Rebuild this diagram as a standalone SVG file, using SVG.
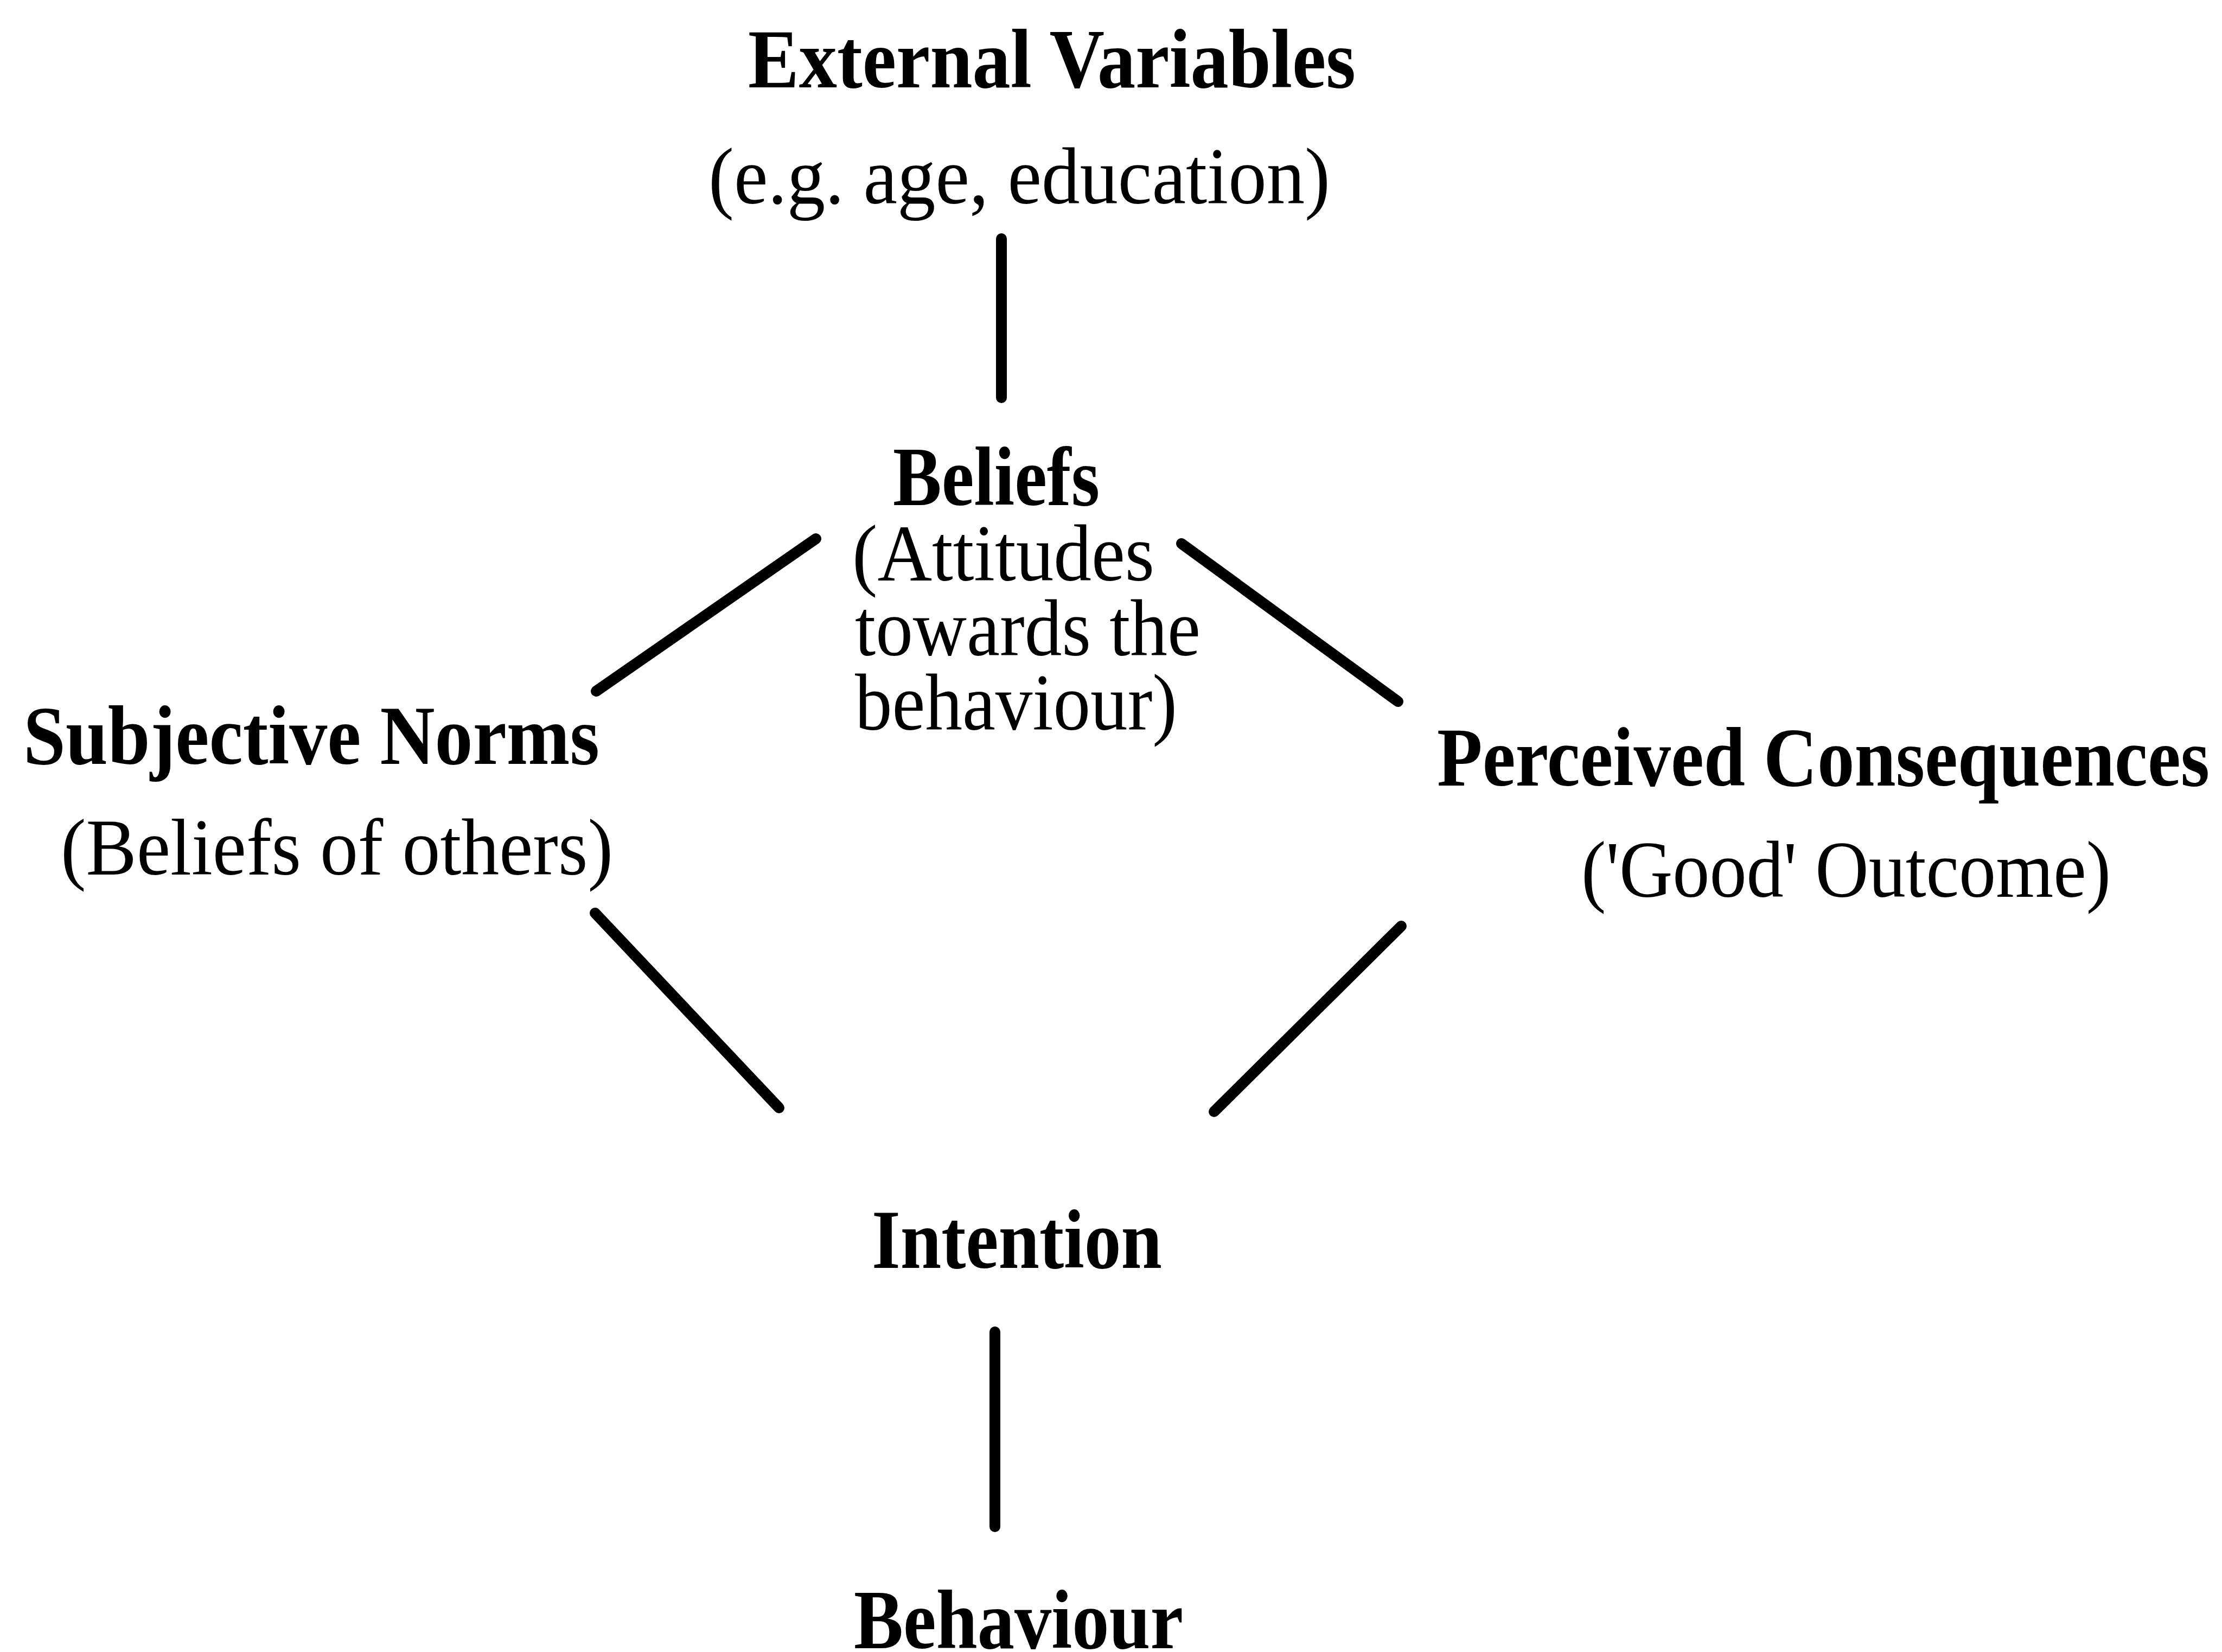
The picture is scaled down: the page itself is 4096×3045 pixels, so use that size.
<svg xmlns="http://www.w3.org/2000/svg" width="4096" height="3045" viewBox="0 0 4096 3045">
<style>
  text { font-family: "Liberation Serif", "Times New Roman", serif; fill: #000; }
  .b { font-weight: bold; font-size: 155px; }
  .r { font-size: 148px; }
  .c line { stroke: #000; stroke-width: 20; stroke-linecap: round; }
</style>
<rect width="4096" height="3045" fill="#fff"/>
<g id="external-variables">
  <text class="b" x="1379" y="161" textLength="1120" lengthAdjust="spacingAndGlyphs">External Variables</text>
  <text class="r" x="1306" y="375" textLength="1146" lengthAdjust="spacingAndGlyphs">(e.g. age, education)</text>
</g>
<g id="beliefs">
  <text class="b" x="1646" y="931" textLength="381" lengthAdjust="spacingAndGlyphs">Beliefs</text>
  <text class="r" x="1571" y="1070" textLength="557" lengthAdjust="spacingAndGlyphs">(Attitudes</text>
  <text class="r" x="1576" y="1208" textLength="637" lengthAdjust="spacingAndGlyphs">towards the</text>
  <text class="r" x="1576" y="1345" textLength="594" lengthAdjust="spacingAndGlyphs">behaviour)</text>
</g>
<g id="subjective-norms">
  <text class="b" x="43" y="1408" textLength="1062" lengthAdjust="spacingAndGlyphs">Subjective Norms</text>
  <text class="r" x="112" y="1612" textLength="1018" lengthAdjust="spacingAndGlyphs">(Beliefs of others)</text>
</g>
<g id="perceived-consequences">
  <text class="b" x="2649" y="1448" textLength="1424" lengthAdjust="spacingAndGlyphs">Perceived Consequences</text>
  <text class="r" x="2915" y="1653" textLength="976" lengthAdjust="spacingAndGlyphs">('Good' Outcome)</text>
</g>
<g id="intention">
  <text class="b" x="1607" y="2337" textLength="535" lengthAdjust="spacingAndGlyphs">Intention</text>
</g>
<g id="behaviour">
  <text class="b" x="1574" y="3038" textLength="607" lengthAdjust="spacingAndGlyphs">Behaviour</text>
</g>
<g id="connectors" class="c">
  <line x1="1846" y1="440" x2="1846" y2="733"/>
  <line x1="1504" y1="993" x2="1099" y2="1274"/>
  <line x1="2178" y1="1002" x2="2577" y2="1293"/>
  <line x1="1097" y1="1683" x2="1436" y2="2042"/>
  <line x1="2583" y1="1707" x2="2238" y2="2049"/>
  <line x1="1834" y1="2455" x2="1834" y2="2814"/>
</g>
</svg>
